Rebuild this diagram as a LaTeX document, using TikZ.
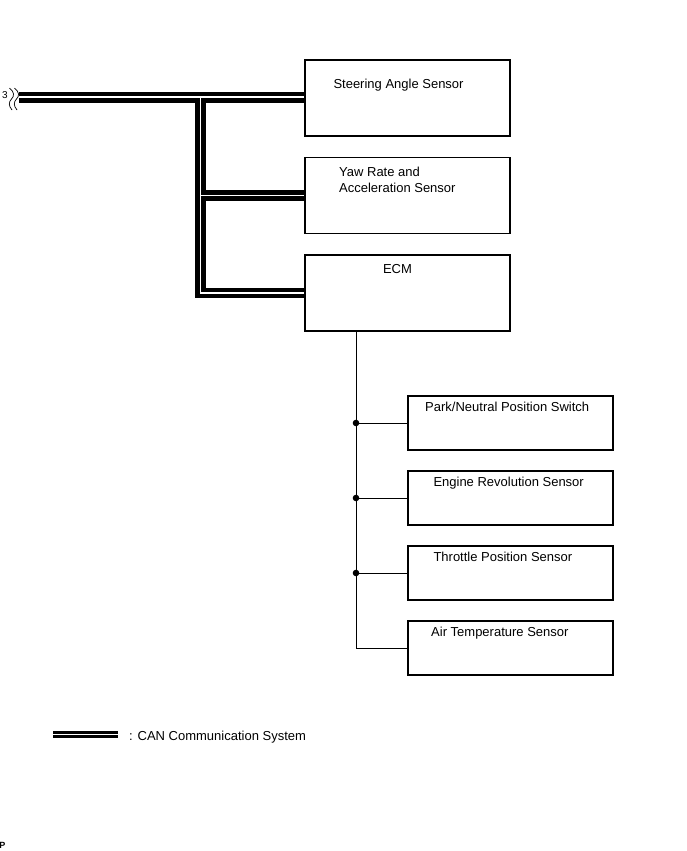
\documentclass[tikz,border=0pt]{standalone}
\usepackage{fontspec}
\setmainfont{Liberation Sans}
\usetikzlibrary{backgrounds}
\tikzset{
  box/.style={draw,line width=1.6pt,inner sep=0pt,outer sep=0pt,anchor=north west,
    minimum width=205pt,minimum height=76pt},
  smallbox/.style={box,minimum height=54pt},
  lbl/.style={inner sep=0pt,anchor=base west,font=\fontsize{13}{16}\selectfont},
  canouter/.style={line width=10.4pt,black},
  caninner/.style={line width=1.7pt,white},
  wire/.style={line width=0.9pt},
}
\begin{document}
\begin{tikzpicture}[x=1pt,y=-1pt]
\useasboundingbox (0,0) rectangle (687,851);

% CAN units
\node[box] (steer) at (305,60) {};
\node[box] (yaw) at (305,157.5) {};
\node[box] (ecm) at (305,255) {};
\node[lbl] at (333.3,88.3) {Steering Angle Sensor};
\node[lbl,anchor=north west,align=left] at (339,166.4) {Yaw Rate and\\Acceleration Sensor};
\node[lbl,anchor=base] at (397.5,273.3) {ECM};

% sensors on the ECM
\node[smallbox] (park) at (408,396) {};
\node[smallbox] (eng) at (408,471) {};
\node[smallbox] (thr) at (408,546) {};
\node[smallbox] (air) at (408,621) {};
\node[lbl] at (425,411) {Park/Neutral Position Switch};
\node[lbl] at (433.3,486.6) {Engine Revolution Sensor};
\node[lbl] at (433.3,561.6) {Throttle Position Sensor};
\node[lbl] at (431,636.6) {Air Temperature Sensor};

% CAN bus
\coordinate (brk) at (19,97.3);
\coordinate (jn) at (200.5,97.3);
\begin{scope}[on background layer]
\draw[canouter] (brk) -- (brk -| steer.west) (jn) |- (ecm.west) (jn |- yaw.west) -- (yaw.west);
\draw[caninner] (brk) -- (brk -| steer.west) (jn) |- (ecm.west) (jn |- yaw.west) -- (yaw.west);
\end{scope}

% break mark
\node[inner sep=0pt,font=\fontsize{10}{12}\selectfont] (brknum) at (5,95.5) {3};
\foreach \dx in {0,5} {
  \draw[line width=0.7pt] (9.5+\dx,88) .. controls (14.5+\dx,92) and (14.5+\dx,96) .. (11.5+\dx,99)
    .. controls (8.5+\dx,102) and (8.5+\dx,106) .. (12+\dx,110);
}

% ECM wiring
\coordinate (ecmtap) at ([xshift=51pt]ecm.south west);
\draw[wire] (ecmtap) |- (air.west);
\foreach \s in {park,eng,thr} {
  \draw[wire] (ecmtap |- \s.west) -- (\s.west);
  \fill (ecmtap |- \s.west) circle (3.3pt);
}

% legend
\coordinate (lga) at (53.3,734.3);
\coordinate (lgb) at (118.3,734.3);
\draw[line width=7pt] (lga) -- (lgb);
\draw[line width=1.2pt,white] (lga) -- (lgb);
\node[lbl] at (129,740) {: CAN Communication System};

\node[inner sep=0pt,anchor=base west,font=\bfseries\fontsize{9}{10}\selectfont] at (-0.8,848) {P};
\end{tikzpicture}
\end{document}
